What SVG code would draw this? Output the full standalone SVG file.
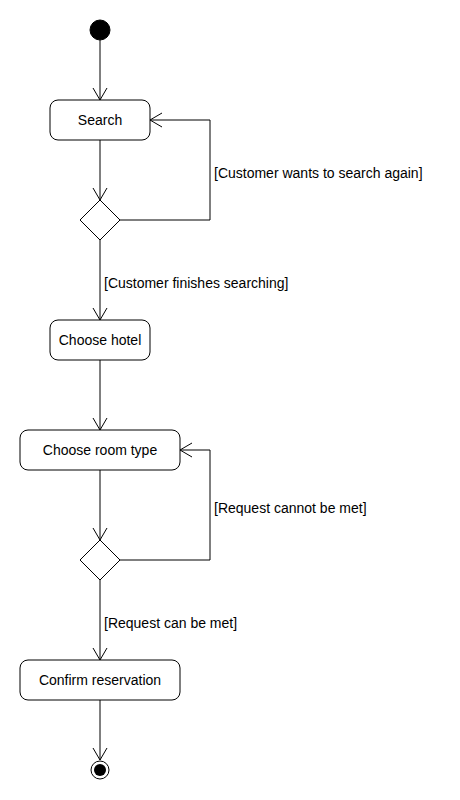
<svg xmlns="http://www.w3.org/2000/svg" width="460" height="800" viewBox="0 0 460 800">
<style>
.node{fill:#fff;stroke:#000;stroke-width:1}
.lbl{font-family:"Liberation Sans",Arial,sans-serif;font-size:14px;fill:#000}
.ctr{text-anchor:middle}
.edge{fill:none;stroke:#000;stroke-width:1}
</style>
<defs>
<marker id="open" markerUnits="userSpaceOnUse" markerWidth="16" markerHeight="16" viewBox="-13 -8 16 16" refX="0" refY="0" orient="auto">
<path d="M-12,-7 L0,0 L-12,7" fill="none" stroke="#000" stroke-width="1"/>
</marker>
</defs>
<rect width="460" height="800" fill="#fff"/>
<g id="connectors">
<path class="edge" d="M100,40 L100,100" marker-end="url(#open)"/>
<path class="edge" d="M100,140 L100,200" marker-end="url(#open)"/>
<path class="edge" d="M120,220 L210,220 L210,120 L150,120" marker-end="url(#open)"/>
<path class="edge" d="M100,240 L100,320" marker-end="url(#open)"/>
<path class="edge" d="M100,360 L100,430" marker-end="url(#open)"/>
<path class="edge" d="M100,470 L100,540" marker-end="url(#open)"/>
<path class="edge" d="M120,560 L210,560 L210,450 L180,450" marker-end="url(#open)"/>
<path class="edge" d="M100,580 L100,660" marker-end="url(#open)"/>
<path class="edge" d="M100,700 L100,760" marker-end="url(#open)"/>
<text class="lbl" x="214" y="178">[Customer wants to search again]</text>
<text class="lbl" x="104" y="288">[Customer finishes searching]</text>
<text class="lbl" x="214" y="513">[Request cannot be met]</text>
<text class="lbl" x="104" y="628">[Request can be met]</text>
</g>
<g id="start"><circle cx="100" cy="30" r="10" fill="#000" stroke="#000"/></g>
<g id="search"><rect class="node" x="50" y="100" width="100" height="40" rx="8"/><text class="lbl ctr" x="100" y="125">Search</text></g>
<g id="decision1"><path class="node" d="M100,200 L120,220 L100,240 L80,220 Z"/></g>
<g id="choose-hotel"><rect class="node" x="50" y="320" width="100" height="40" rx="8"/><text class="lbl ctr" x="100" y="345">Choose hotel</text></g>
<g id="choose-room"><rect class="node" x="20" y="430" width="160" height="40" rx="8"/><text class="lbl ctr" x="100" y="455">Choose room type</text></g>
<g id="decision2"><path class="node" d="M100,540 L120,560 L100,580 L80,560 Z"/></g>
<g id="confirm"><rect class="node" x="20" y="660" width="160" height="40" rx="8"/><text class="lbl ctr" x="100" y="685">Confirm reservation</text></g>
<g id="end"><circle cx="100" cy="770" r="9" fill="#fff" stroke="#000" stroke-width="1"/><circle cx="100" cy="770" r="6" fill="#000"/></g>
</svg>
